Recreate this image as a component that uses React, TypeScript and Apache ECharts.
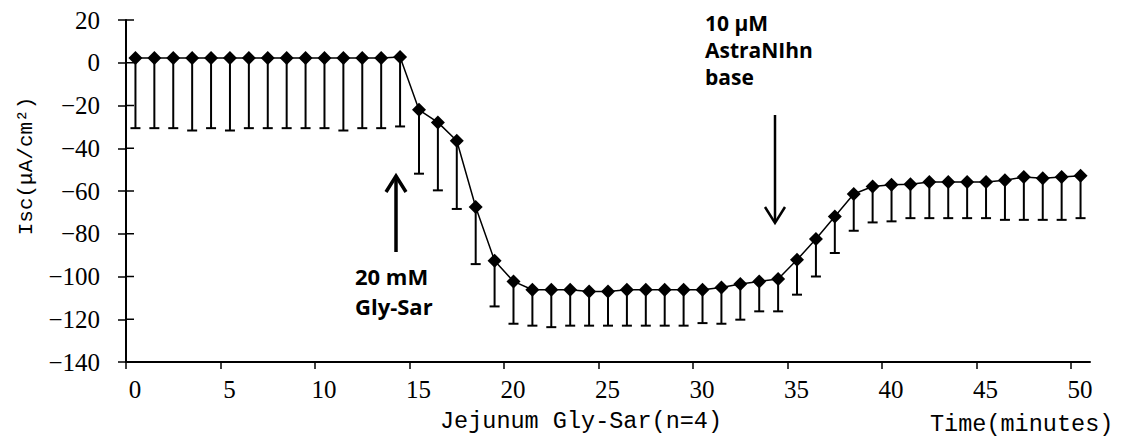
import React, { useEffect, useRef } from "react";
import * as echarts from "echarts";

const timeMinutes = [
  0.5, 1.5, 2.5, 3.5, 4.5, 5.5, 6.5, 7.5, 8.5, 9.5,
  10.5, 11.5, 12.5, 13.5, 14.5, 15.5, 16.5, 17.5, 18.5, 19.5,
  20.5, 21.5, 22.5, 23.5, 24.5, 25.5, 26.5, 27.5, 28.5, 29.5,
  30.5, 31.5, 32.5, 33.5, 34.5, 35.5, 36.5, 37.5, 38.5, 39.5,
  40.5, 41.5, 42.5, 43.5, 44.5, 45.5, 46.5, 47.5, 48.5, 49.5, 50.5,
];

const iscMean = [
  2.2, 2.2, 2.2, 2.2, 2.2, 2.2, 2.2, 2.2, 2.2, 2.2,
  2.2, 2.2, 2.2, 2.2, 2.7, -22.0, -27.9, -36.5, -67.5, -92.6,
  -102.3, -106.2, -106.2, -106.2, -107.0, -107.0, -106.2, -106.2, -106.2, -106.2,
  -106.2, -105.1, -103.5, -102.3, -101.2, -92.2, -82.5, -71.9, -61.4, -57.9,
  -57.1, -56.8, -55.8, -55.8, -55.8, -55.8, -55.0, -53.5, -54.0, -53.5, -52.9,
];

const iscLowerError = [
  -30.6, -30.6, -30.6, -31.7, -30.6, -31.7, -30.6, -30.6, -30.6, -30.6,
  -30.6, -31.7, -30.6, -30.6, -29.8, -51.9, -59.7, -68.4, -94.2, -114.0,
  -122.1, -123.0, -123.7, -123.0, -123.0, -123.0, -123.0, -123.0, -123.0, -123.0,
  -121.8, -122.1, -120.2, -116.3, -116.3, -108.5, -100.0, -89.0, -78.6, -74.7,
  -74.2, -72.7, -72.7, -72.7, -72.7, -72.7, -73.5, -73.5, -73.5, -73.5, -72.7,
];

const xTicks = [0, 5, 10, 15, 20, 25, 30, 35, 40, 45, 50];
const yTicks = [20, 0, -20, -40, -60, -80, -100, -120, -140];

const serif = "Liberation Serif";
const mono = "Liberation Mono";
const bold = "Open Sans";

export default function App() {
  const ref = useRef<HTMLDivElement>(null);

  useEffect(() => {
    if (!ref.current) return;
    const chart = echarts.init(ref.current, null, { renderer: "svg" });

    const lineData = timeMinutes.map((t, i) => [t, iscMean[i]]);
    const errData = timeMinutes.map((t, i) => [t, iscMean[i], iscLowerError[i]]);
    const innerTickData = yTicks.map((v) => [0, v]);

    chart.setOption({
      animation: false,
      backgroundColor: "#ffffff",
      grid: { left: 126, right: 31, top: 20, bottom: 75, containLabel: false },
      xAxis: {
        type: "value",
        min: 0,
        max: 51,
        interval: 5,
        position: "bottom",
        axisLine: { onZero: false, lineStyle: { color: "#000", width: 2 } },
        axisTick: { show: true, length: 7, lineStyle: { color: "#000", width: 1.5 }, customValues: xTicks },
        axisLabel: {
          customValues: xTicks,
          color: "#000",
          fontFamily: serif,
          fontSize: 25,
          margin: 15,
          formatter: (v: number) => `{t|${v}}`,
          rich: {
            t: { fontFamily: serif, fontSize: 25, color: "#000", padding: [0, 0, 0, 18] },
          },
        },
        splitLine: { show: false },
      },
      yAxis: {
        type: "value",
        min: -140,
        max: 20,
        interval: 20,
        axisLine: { show: true, onZero: false, lineStyle: { color: "#000", width: 2 } },
        axisTick: { show: true, length: 8, lineStyle: { color: "#000", width: 1.5 } },
        axisLabel: {
          color: "#000",
          fontFamily: serif,
          fontSize: 25,
          margin: 26,
          formatter: (v: number) => `{t|${String(v).replace("-", "\u2212")}}`,
          rich: {
            t: { fontFamily: serif, fontSize: 25, color: "#000" },
          },
        },
        splitLine: { show: false },
      },
      series: [
        {
          type: "custom",
          name: "innerTicks",
          z: 1,
          silent: true,
          data: innerTickData,
          renderItem: (params: any, api: any) => {
            const p = api.coord([api.value(0), api.value(1)]);
            return {
              type: "line",
              shape: { x1: p[0], y1: p[1], x2: p[0] + 8, y2: p[1] },
              style: { stroke: "#000", lineWidth: 1.5 },
            };
          },
        },
        {
          type: "custom",
          name: "error",
          z: 1,
          data: errData,
          renderItem: (params: any, api: any) => {
            const x = api.value(0);
            const top = api.coord([x, api.value(1)]);
            const bot = api.coord([x, api.value(2)]);
            const style = { stroke: "#000", lineWidth: 2 };
            return {
              type: "group",
              children: [
                { type: "line", shape: { x1: top[0], y1: top[1], x2: bot[0], y2: bot[1] }, style },
                { type: "line", shape: { x1: bot[0] - 5, y1: bot[1], x2: bot[0] + 5, y2: bot[1] }, style },
              ],
            };
          },
        },
        {
          type: "line",
          name: "Isc",
          z: 3,
          data: lineData,
          symbol: "diamond",
          symbolSize: 14,
          itemStyle: { color: "#000" },
          lineStyle: { color: "#000", width: 1.5 },
        },
      ],
      graphic: [
        {
          type: "text",
          x: 26,
          y: 166,
          rotation: Math.PI / 2,
          style: { text: "Isc(μA/cm²)", fontSize: 21, fontFamily: mono, fill: "#000", align: "center", verticalAlign: "middle" },
        },
        {
          type: "text",
          x: 440,
          y: 421,
          style: { text: "Jejunum Gly-Sar(n=4)", fontSize: 23.5, fontFamily: mono, fill: "#000", align: "left", verticalAlign: "middle" },
        },
        {
          type: "text",
          x: 930,
          y: 424,
          style: { text: "Time(minutes)", fontSize: 23.5, fontFamily: mono, fill: "#000", align: "left", verticalAlign: "middle" },
        },
        {
          type: "text",
          x: 355,
          y: 261,
          style: { text: "20 mM\nGly-Sar", fontSize: 22, fontWeight: "bold", fontFamily: bold, lineHeight: 30, fill: "#000", align: "left", verticalAlign: "top" },
        },
        {
          type: "text",
          x: 705,
          y: 9,
          style: { text: "10 μM\nAstraNIhn\nbase", fontSize: 21, fontWeight: "bold", fontFamily: bold, lineHeight: 27, fill: "#000", align: "left", verticalAlign: "top" },
        },
        {
          type: "line",
          shape: { x1: 396, y1: 252, x2: 396, y2: 177 },
          style: { stroke: "#000", lineWidth: 3.5 },
        },
        {
          type: "polyline",
          shape: { points: [[386, 192], [396, 176], [406, 192]] },
          style: { stroke: "#000", lineWidth: 3.5, fill: "none" },
        },
        {
          type: "line",
          shape: { x1: 775, y1: 115, x2: 775, y2: 222 },
          style: { stroke: "#000", lineWidth: 2.5 },
        },
        {
          type: "polyline",
          shape: { points: [[765, 207], [775, 223], [785, 207]] },
          style: { stroke: "#000", lineWidth: 2.5, fill: "none" },
        },
      ],
    });

    return () => chart.dispose();
  }, []);

  return (
    <div
      ref={ref}
      style={{ position: "fixed", left: 0, top: 0, width: 1121, height: 437, background: "#fff" }}
    />
  );
}
